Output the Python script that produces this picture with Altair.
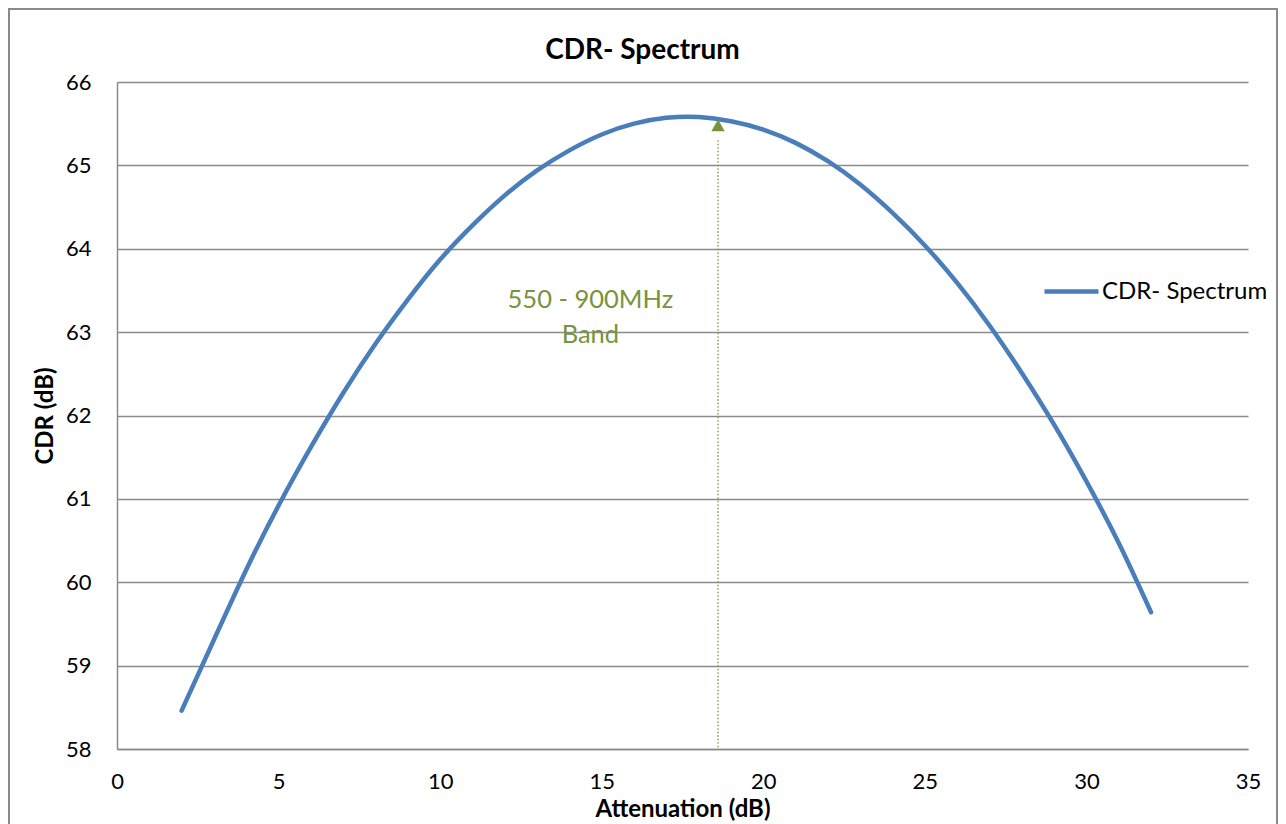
import altair as alt
import pandas as pd

# Data
atten = list(range(2, 33))
cdr = [58.46, 59.31, 60.15, 60.92, 61.62, 62.27, 62.86, 63.39, 63.87, 64.28,
       64.64, 64.94, 65.18, 65.37, 65.50, 65.57, 65.58, 65.53, 65.43, 65.27,
       65.05, 64.77, 64.43, 64.04, 63.59, 63.08, 62.51, 61.89, 61.21, 60.47,
       59.64]
series_name = "CDR- Spectrum"

marker_x = [18.6]
marker_y = [65.48]
rule_top = [65.30]
rule_bottom = [58.0]

label_x = [14.65, 14.65]
label_y = [63.38, 62.96]
label_text = ["550 - 900MHz", "Band"]

x_ticks = [0, 5, 10, 15, 20, 25, 30, 35]
y_ticks = [58, 59, 60, 61, 62, 63, 64, 65, 66]

GRID = "#8a8a8a"
BLUE = "#4A7EBB"
OLIVE = "#77933C"
FONT = "Lato"

df = pd.DataFrame({"x": atten, "y": cdr, "series": [series_name] * len(atten)})
mk = pd.DataFrame({"x": marker_x, "y": marker_y, "y1": rule_top, "y0": rule_bottom})
lab = pd.DataFrame({"x": label_x, "y": label_y, "t": label_text})

xscale = alt.Scale(domain=[0, 35], nice=False, zero=False)
yscale = alt.Scale(domain=[58, 66], nice=False, zero=False)

xaxis = alt.Axis(values=x_ticks, format="d", grid=False, ticks=False, tickSize=0,
                 domainColor=GRID, domainWidth=1.5, labelFont=FONT,
                 labelFontSize=22, labelColor="black", labelPadding=22,
                 labelFlush=False, title="Attenuation (dB)", titleFont=FONT,
                 titleFontSize=24, titleFontWeight="bold", titleColor="black",
                 titlePadding=5)
yaxis = alt.Axis(values=y_ticks, format="d", grid=True, gridColor=GRID, gridWidth=1.5,
                 ticks=False, tickSize=0, domainColor=GRID, domainWidth=1.5,
                 labelFont=FONT, labelFontSize=22, labelColor="black",
                 labelPadding=26, title="CDR (dB)", titleFont=FONT,
                 titleFontSize=24, titleFontWeight="bold", titleColor="black",
                 titlePadding=8)

border = alt.Chart(pd.DataFrame({"a": [0]})).mark_rect(
    fillOpacity=0, stroke=GRID, strokeWidth=2
).encode(x=alt.value(-108), x2=alt.value(1160), y=alt.value(-73), y2=alt.value(800))

line = alt.Chart(df).mark_line(strokeWidth=4.5, interpolate="natural", strokeCap="round").encode(
    x=alt.X("x:Q", scale=xscale, axis=xaxis),
    y=alt.Y("y:Q", scale=yscale, axis=yaxis),
    color=alt.Color("series:N", scale=alt.Scale(range=[BLUE]),
                    legend=alt.Legend(orient="none", legendX=925, legendY=180,
                                      title=None, symbolType="stroke",
                                      symbolSize=2916, symbolStrokeWidth=4.5,
                                      labelFont=FONT, labelFontSize=24,
                                      labelLimit=400,
                                      labelColor="black", labelOffset=1,
                                      padding=0)),
)

rule = alt.Chart(mk).mark_rule(color=OLIVE, strokeWidth=1.3, strokeDash=[1.3, 2.2]).encode(
    x="x:Q", y="y1:Q", y2="y0:Q"
)

point = alt.Chart(mk).mark_point(shape="triangle-up", filled=True, size=180,
                                 color=OLIVE, opacity=1).encode(x="x:Q", y="y:Q")

text = alt.Chart(lab).mark_text(color=OLIVE, font=FONT, fontSize=25.5).encode(
    x="x:Q", y="y:Q", text="t:N"
)

chart = alt.layer(border, line, rule, point, text).properties(
    width=1131, height=667,
    padding={"left": 109, "top": 74, "right": 30, "bottom": 75},
    autosize=alt.AutoSizeParams(type="none"),
    title=alt.TitleParams("CDR- Spectrum", font=FONT, fontSize=28,
                          fontWeight="bold", color="black", offset=-57, dx=-40),
).configure_view(strokeWidth=0)

chart.save("out.html", embed_options={"renderer": "svg", "actions": False})
